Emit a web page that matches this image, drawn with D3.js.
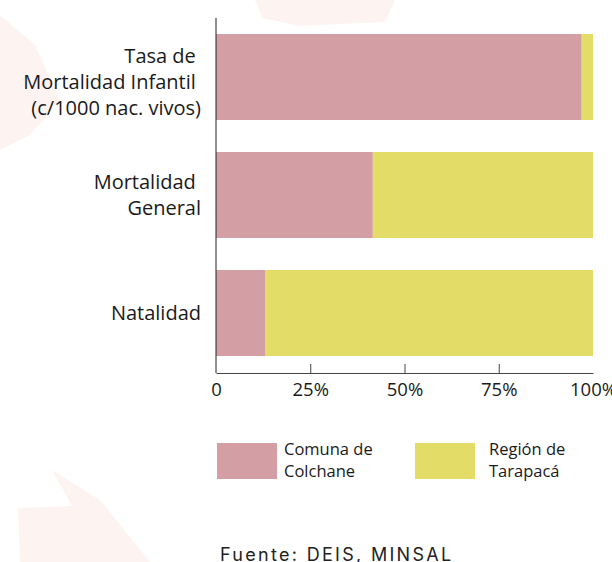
<!DOCTYPE html>
<html lang="es">
<head>
<meta charset="utf-8">
<title>Indicadores Colchane</title>
<script src="https://d3js.org/d3.v7.min.js"></script>
<style>
  body { margin: 0; background: #fff; }
  svg { display: block; }
</style>
</head>
<body>
<div id="chart"></div>
<script>
// data
var categories = ["Tasa de Mortalidad Infantil", "Mortalidad General", "Natalidad"];
var categoryLines = [["Tasa de ", "Mortalidad Infantil ", "(c/1000 nac. vivos)"], ["Mortalidad ", "General"], ["Natalidad"]];
var comunaShare = [97, 41.6, 13];
var regionShare = [3, 58.4, 87];
var seriesNames = [["Comuna de", "Colchane"], ["Región de", "Tarapacá"]];
var tickValues = [0, 25, 50, 75, 100];
var tickLabels = ["0", "25%", "50%", "75%", "100%"];
var source = "Fuente: DEIS, MINSAL";

var colors = ["#d49ea5", "#e3dd67"];
var W = 612, H = 562;

var svg = d3.select("#chart").append("svg")
    .attr("width", W).attr("height", H);

// very faint background watermark
var wm = svg.append("g").attr("fill", "#fdf4f1");
wm.append("path").attr("d", "M0,15 L35,45 L60,100 L30,135 L0,150 Z");
wm.append("path").attr("d", "M255,0 L395,0 L385,22 L300,26 L262,18 Z");
wm.append("path").attr("d", "M18,508 L72,506 L52,470 L100,500 L150,562 L20,562 Z");

var x = d3.scaleLinear().domain([0, 100]).range([216, 593]);
var y = d3.scaleBand().domain(categories).range([18, 372]).paddingInner(0.2712).paddingOuter(0.1356);

var stacked = categories.map(function(c, i) {
  return [{ x0: 0, x1: comunaShare[i], c: c, k: 0 },
          { x0: comunaShare[i], x1: comunaShare[i] + regionShare[i], c: c, k: 1 }];
});

svg.append("g").selectAll("rect")
  .data(d3.merge(stacked))
  .join("rect")
  .attr("x", function(d) { return x(d.x0); })
  .attr("width", function(d) { return x(d.x1) - x(d.x0); })
  .attr("y", function(d) { return y(d.c); })
  .attr("height", y.bandwidth())
  .attr("fill", function(d) { return colors[d.k]; });

// x axis
var xAxis = d3.axisBottom(x)
  .tickValues(tickValues)
  .tickFormat(function(d, i) { return tickLabels[i]; })
  .tickSizeInner(-9).tickSizeOuter(0).tickPadding(10);

var gx = svg.append("g").attr("transform", "translate(0,373)").call(xAxis);
gx.select(".domain").attr("stroke", "#444");
gx.selectAll(".tick line").attr("stroke", "#444")
  .filter(function(d) { return d === 0 || d === 100; }).remove();
gx.selectAll(".tick text")
  .attr("font-family", "'Open Sans', sans-serif")
  .attr("font-size", 18.5)
  .attr("fill", "#1a1a1a");

// y axis line
svg.append("line")
  .attr("x1", 216).attr("x2", 216)
  .attr("y1", 18).attr("y2", 373)
  .attr("stroke", "#222");

// category labels
var labelShift = [5, 0, 0];
categories.forEach(function(c, i) {
  var lines = categoryLines[i];
  var cy = y(c) + y.bandwidth() / 2 + labelShift[i];
  var lh = 26;
  var t = svg.append("text")
    .attr("text-anchor", "end")
    .attr("font-family", "'Open Sans', sans-serif")
    .attr("font-size", 20)
    .attr("fill", "#1a1a1a")
    .attr("xml:space", "preserve");
  lines.forEach(function(l, j) {
    t.append("tspan")
      .attr("x", 201)
      .attr("y", cy + (j - (lines.length - 1) / 2) * lh)
      .attr("dy", "0.35em")
      .text(l);
  });
});

// legend
var legendX = [217, 415];
var legendTextX = [284, 489];
seriesNames.forEach(function(n, i) {
  svg.append("rect")
    .attr("x", legendX[i]).attr("y", 443)
    .attr("width", 60).attr("height", 36)
    .attr("fill", colors[i]);
  var t = svg.append("text")
    .attr("font-family", "'Open Sans', sans-serif")
    .attr("font-size", 16.5)
    .attr("fill", "#1a1a1a");
  n.forEach(function(l, j) {
    t.append("tspan")
      .attr("x", legendTextX[i])
      .attr("y", 455 + j * 22)
      .text(l);
  });
});

// source
svg.append("text")
  .attr("x", 220).attr("y", 561)
  .attr("font-family", "Inter, sans-serif")
  .attr("font-size", 18)
  .attr("letter-spacing", 2.3)
  .attr("fill", "#222")
  .text(source);
</script>
</body>
</html>
